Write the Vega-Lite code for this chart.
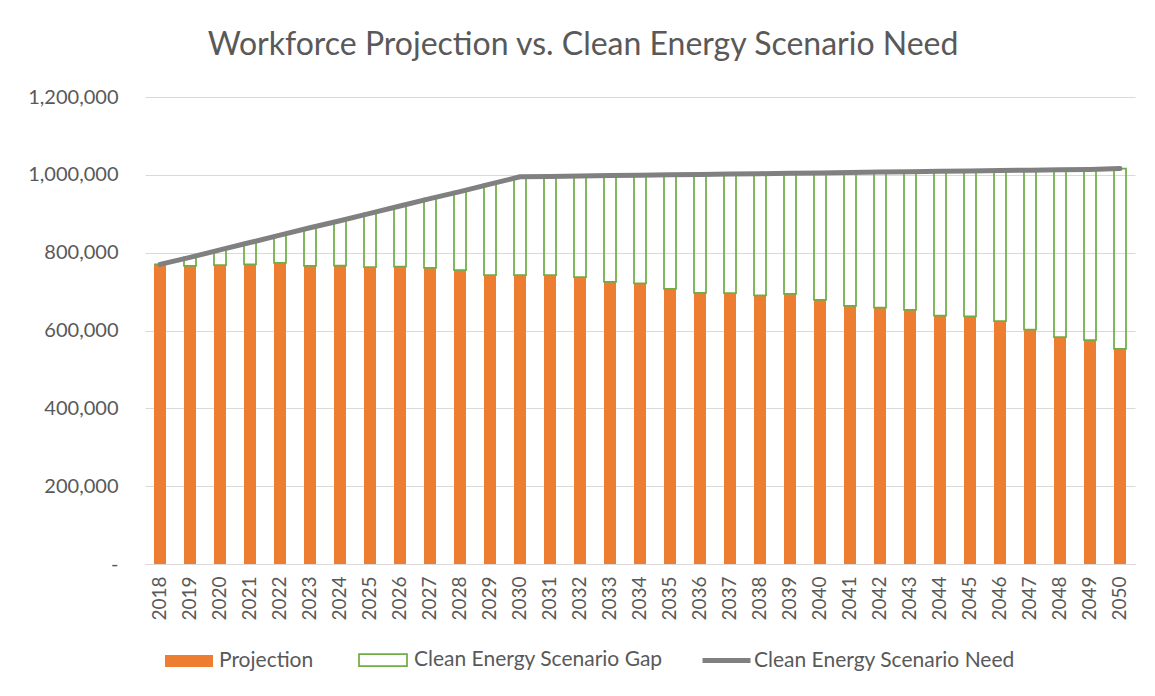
{
  "$schema": "https://vega.github.io/schema/vega-lite/v6.json",
  "width": 990,
  "height": 467,
  "autosize": {"type": "none"},
  "padding": {"left": 145, "top": 97, "right": 20, "bottom": 132},
  "background": "white",
  "config": {
    "font": "Lato",
    "view": {"stroke": null},
    "legend": {
      "orient": "none",
      "title": null,
      "labelFont": "Lato",
      "labelFontSize": 21,
      "labelColor": "#595959",
      "labelLimit": 500,
      "labelOffset": 6,
      "legendY": 540
    }
  },
  "title": {
    "text": "Workforce Projection vs. Clean Energy Scenario Need",
    "font": "Lato",
    "fontSize": 32,
    "fontWeight": "normal",
    "color": "#595959",
    "anchor": "middle",
    "dx": -57,
    "offset": 25
  },
  "data": {
    "values": [
      {"year": "2018", "projection": 770000, "need": 770000},
      {"year": "2019", "projection": 766000, "need": 788000},
      {"year": "2020", "projection": 768000, "need": 807000},
      {"year": "2021", "projection": 770000, "need": 826000},
      {"year": "2022", "projection": 774000, "need": 845000},
      {"year": "2023", "projection": 766000, "need": 864000},
      {"year": "2024", "projection": 767000, "need": 882000},
      {"year": "2025", "projection": 763000, "need": 901000},
      {"year": "2026", "projection": 764000, "need": 920000},
      {"year": "2027", "projection": 761000, "need": 939000},
      {"year": "2028", "projection": 755000, "need": 957000},
      {"year": "2029", "projection": 742000, "need": 976000},
      {"year": "2030", "projection": 742000, "need": 995000},
      {"year": "2031", "projection": 742000, "need": 996000},
      {"year": "2032", "projection": 737000, "need": 997000},
      {"year": "2033", "projection": 725000, "need": 998000},
      {"year": "2034", "projection": 721000, "need": 999000},
      {"year": "2035", "projection": 707000, "need": 1000000},
      {"year": "2036", "projection": 697000, "need": 1001000},
      {"year": "2037", "projection": 696000, "need": 1002000},
      {"year": "2038", "projection": 690000, "need": 1003000},
      {"year": "2039", "projection": 694000, "need": 1004000},
      {"year": "2040", "projection": 679000, "need": 1005000},
      {"year": "2041", "projection": 663000, "need": 1006000},
      {"year": "2042", "projection": 659000, "need": 1007000},
      {"year": "2043", "projection": 653000, "need": 1008000},
      {"year": "2044", "projection": 638000, "need": 1009000},
      {"year": "2045", "projection": 636000, "need": 1010000},
      {"year": "2046", "projection": 624000, "need": 1011000},
      {"year": "2047", "projection": 602000, "need": 1012000},
      {"year": "2048", "projection": 583000, "need": 1013000},
      {"year": "2049", "projection": 575000, "need": 1014000},
      {"year": "2050", "projection": 553000, "need": 1016000}
    ]
  },
  "encoding": {
    "x": {
      "field": "year",
      "type": "ordinal",
      "scale": {"paddingInner": 0.6, "paddingOuter": 0.3},
      "axis": {
        "title": null,
        "labelAngle": -90,
        "labelFont": "Lato",
        "labelFontSize": 19,
        "labelColor": "#595959",
        "ticks": false,
        "tickSize": 0,
        "labelPadding": 12,
        "domainColor": "#D9D9D9",
        "domainWidth": 1,
        "grid": false
      }
    }
  },
  "resolve": {"scale": {"color": "independent"}, "legend": {"color": "independent"}},
  "layer": [
    {
      "mark": {"type": "bar"},
      "encoding": {
        "y": {
          "field": "projection",
          "type": "quantitative",
          "scale": {"domain": [0, 1200000], "nice": false},
          "axis": {
            "title": null,
            "values": [0, 200000, 400000, 600000, 800000, 1000000, 1200000],
            "labelExpr": "datum.value === 0 ? '-\u00a0\u00a0\u00a0' : format(datum.value, ',')",
            "labelFont": "Lato",
            "labelFontSize": 20,
            "labelColor": "#595959",
            "ticks": false,
            "tickSize": 0,
            "labelPadding": 27,
            "domain": false,
            "gridColor": "#D9D9D9",
            "gridWidth": 1
          }
        },
        "color": {
          "datum": "Projection",
          "scale": {"domain": ["Projection"], "range": ["#ED7D31"]},
          "legend": {
            "legendX": 20,
            "symbolType": "M-1,-0.25H1V0.25H-1Z",
            "symbolSize": 2304,
            "symbolStrokeWidth": 0
          }
        }
      }
    },
    {
      "mark": {"type": "bar", "filled": false, "strokeWidth": 1.75},
      "encoding": {
        "y": {"field": "projection", "type": "quantitative"},
        "y2": {"field": "need"},
        "color": {
          "datum": "Clean Energy Scenario Gap",
          "scale": {"domain": ["Clean Energy Scenario Gap"], "range": ["#70AD47"]},
          "legend": {
            "legendX": 213,
            "legendY": 538,
            "symbolType": "M-1,-0.25H1V0.25H-1Z",
            "symbolSize": 2304,
            "symbolStrokeWidth": 1.75,
            "symbolFillColor": "#ffffff"
          }
        }
      }
    },
    {
      "mark": {"type": "line", "strokeWidth": 5, "strokeCap": "round", "strokeJoin": "round"},
      "encoding": {
        "y": {"field": "need", "type": "quantitative"},
        "color": {
          "datum": "Clean Energy Scenario Need",
          "scale": {"domain": ["Clean Energy Scenario Need"], "range": ["#808080"]},
          "legend": {
            "legendX": 555,
            "legendY": 537,
            "labelOffset": 1,
            "symbolType": "stroke",
            "symbolSize": 2304,
            "symbolStrokeWidth": 5
          }
        }
      }
    }
  ]
}
